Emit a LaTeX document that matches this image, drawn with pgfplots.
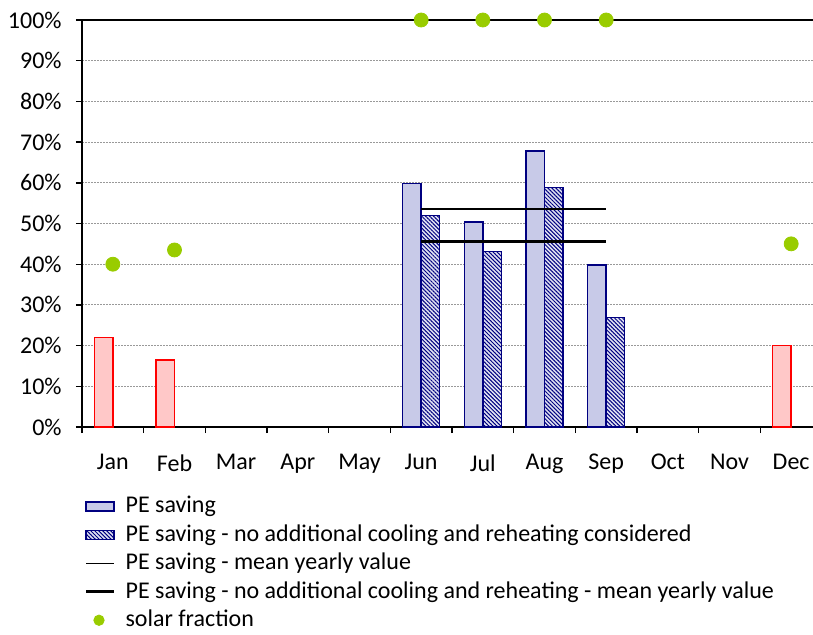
\documentclass[border=0pt]{standalone}
\usepackage{pgfplots}
\pgfplotsset{compat=1.18}
\usepackage{fontspec}
\setmainfont{Carlito}
\usetikzlibrary{patterns.meta}
\definecolor{peblue}{RGB}{200,202,232}
\definecolor{penavy}{RGB}{0,0,128}
\definecolor{pink1}{RGB}{255,200,200}
\definecolor{solgreen}{RGB}{153,204,0}
\pgfplotsset{
  barleg/.style={legend image code/.code={\draw[##1] (0pt,-2.2pt) rectangle (14pt,2.2pt); \path (17pt,0pt);}},
  lineleg/.style={legend image code/.code={\draw[##1] (0pt,0pt) -- (14pt,0pt); \path (17pt,0pt);}},
  dotleg/.style={legend image code/.code={\draw[##1, mark size=2.6pt] plot coordinates {(6.5pt,0pt)}; \path (0pt,0pt) (17pt,0pt);}},
}
\begin{document}
\fontsize{12pt}{14.4pt}\selectfont
\begin{tikzpicture}
\path[use as bounding box] (0,0) rectangle (406.5pt,317pt);
\begin{axis}[
  at={(41pt,103.5pt)}, anchor=south west,
  width=370pt, height=203.5pt, scale only axis,
  xmin=0, xmax=12, ymin=0, ymax=100,
  ybar, bar width=9.25pt,
  clip=false,
  xtick={0,...,12},
  x tick label as interval,
  xticklabels={Jan,Feb,Mar,Apr,May,Jun,Jul,Aug,Sep,Oct,Nov,Dec},
  ytick={0,10,...,100},
  yticklabel={\pgfmathprintnumber{\tick}\%},
  /pgf/number format/assume math mode=true,
  tick align=outside,
  major tick length=3pt,
  xtick pos=bottom, ytick pos=left,
  xticklabel style={yshift=-6.5pt},
  yticklabel style={xshift=-3pt},
  ymajorgrids,
  grid style={gray!80, line width=0.5pt, dash pattern=on 1pt off 0.5pt},
  axis line style={black, line width=0.9pt},
  tick style={black, line width=0.7pt},
  legend style={at={(axis description cs:0,0)}, anchor=north west,
    xshift=-2pt, yshift=-30.5pt, draw=none, fill=none,
    row sep=0.1pt, legend cell align=left,
    font=\fontsize{12pt}{14.4pt}\selectfont},
]
\addplot[draw=penavy, fill=peblue, line width=0.7pt, bar shift=-4.625pt, barleg]
  coordinates {(5.5,59.9) (6.5,50.4) (7.5,67.8) (8.5,39.8)};
\addlegendentry{PE saving}
\addplot[draw=penavy, fill=peblue!55, line width=0.7pt, bar shift=4.625pt,
  postaction={pattern={Lines[angle=-45,distance=1.4pt,line width=0.5pt]}, pattern color=penavy}, barleg]
  coordinates {(5.5,51.9) (6.5,43.1) (7.5,58.8) (8.5,26.9)};
\addlegendentry{PE saving - no additional cooling and reheating considered}
\addplot[forget plot, draw=red, fill=pink1, line width=0.7pt, bar shift=-4.625pt]
  coordinates {(0.5,22.0) (1.5,16.5) (11.5,20.1)};
\addplot[sharp plot, black, line width=0.7pt, lineleg]
  coordinates {(5.5,53.6) (8.5,53.6)};
\addlegendentry{PE saving - mean yearly value}
\addplot[sharp plot, black, line width=1.6pt, lineleg]
  coordinates {(5.5,45.5) (8.5,45.5)};
\addlegendentry{PE saving - no additional cooling and reheating - mean yearly value}
\addplot[only marks, mark=*, mark size=3.5pt, solgreen, mark options={draw=solgreen, fill=solgreen}, dotleg]
  coordinates {(0.5,40.0) (1.5,43.5) (5.5,100) (6.5,100) (7.5,100) (8.5,100) (11.5,45.0)};
\addlegendentry{solar fraction}
\end{axis}
\end{tikzpicture}
\end{document}
